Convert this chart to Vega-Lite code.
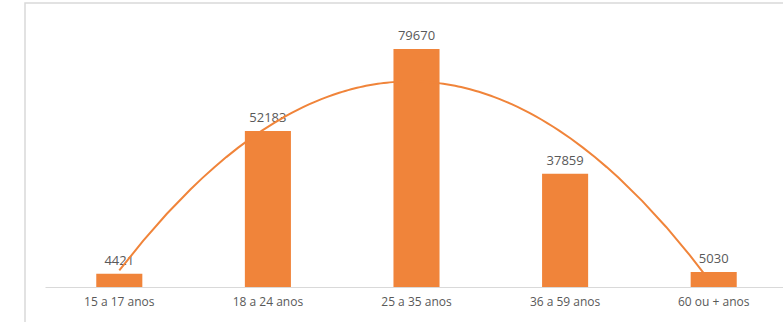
{
  "$schema": "https://vega.github.io/schema/vega-lite/v6.json",
  "width": 770,
  "height": 330,
  "autosize": "none",
  "padding": {"left": 25, "top": 3, "right": 0, "bottom": 0},
  "config": {
    "view": {"stroke": "#D9D9D9", "strokeWidth": 1.5},
    "font": "Open Sans"
  },
  "data": {
    "values": [
      {"faixa": "15 a 17 anos", "idx": 1, "valor": 4421},
      {"faixa": "18 a 24 anos", "idx": 2, "valor": 52183},
      {"faixa": "25 a 35 anos", "idx": 3, "valor": 79670},
      {"faixa": "36 a 59 anos", "idx": 4, "valor": 37859},
      {"faixa": "60 ou + anos", "idx": 5, "valor": 5030}
    ]
  },
  "layer": [
    {
      "layer": [
        {
          "mark": {"type": "bar", "color": "#F0843A"},
          "encoding": {
            "x": {
              "field": "faixa",
              "type": "nominal",
              "sort": null,
              "scale": {"range": [20, 763], "paddingInner": 0.69, "paddingOuter": 0.345},
              "axis": {
                "title": null,
                "orient": "bottom",
                "offset": -46,
                "domainColor": "#D9D9D9",
                "domainWidth": 1,
                "ticks": false,
                "grid": false,
                "labelAngle": 0,
                "labelFont": "Open Sans",
                "labelFontSize": 12,
                "labelColor": "#595959",
                "labelPadding": 9
              }
            },
            "y": {
              "field": "valor",
              "type": "quantitative",
              "scale": {"domain": [0, 90000], "range": [284, 15]},
              "axis": null
            }
          }
        },
        {
          "mark": {
            "type": "text",
            "baseline": "alphabetic",
            "dy": -9,
            "font": "Open Sans",
            "fontSize": 13,
            "color": "#595959"
          },
          "encoding": {
            "x": {"field": "faixa", "type": "nominal", "sort": null},
            "y": {"field": "valor", "type": "quantitative"},
            "text": {"field": "valor", "type": "quantitative", "format": "d"}
          }
        }
      ]
    },
    {
      "mark": {"type": "line", "color": "#F0843A", "strokeWidth": 2},
      "transform": [
        {"regression": "valor", "on": "idx", "method": "poly", "order": 2}
      ],
      "encoding": {
        "x": {
          "field": "idx",
          "type": "quantitative",
          "scale": {"domain": [0.5, 5.5], "range": [20, 763]},
          "axis": null
        },
        "y": {"field": "valor", "type": "quantitative"}
      }
    }
  ],
  "resolve": {"scale": {"x": "independent"}}
}
